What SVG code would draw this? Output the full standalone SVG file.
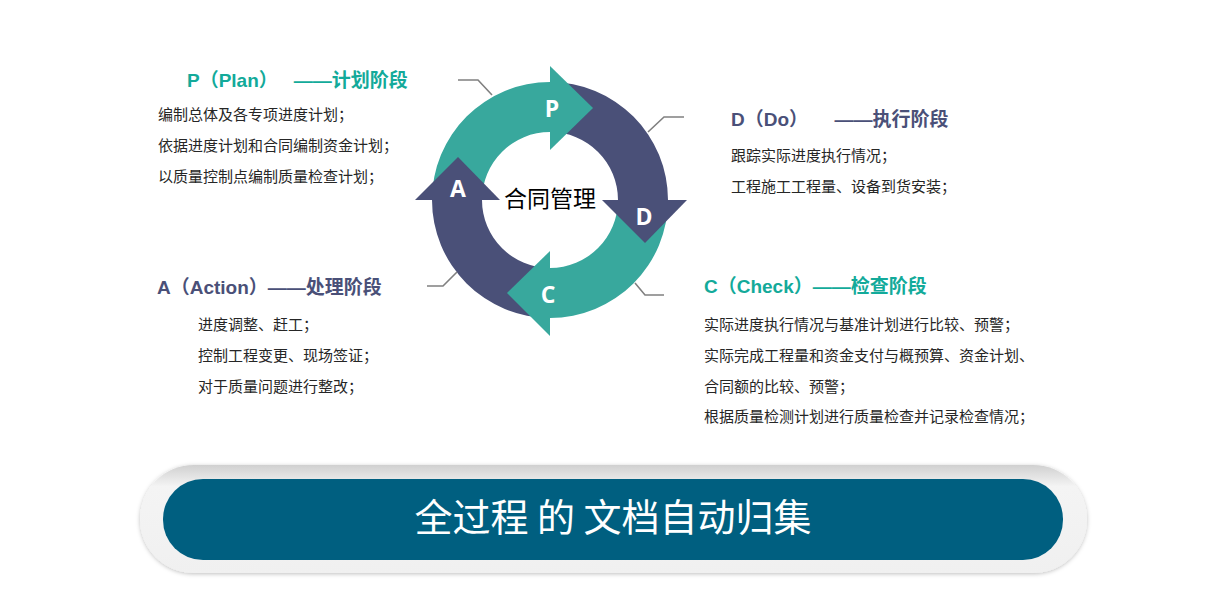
<svg xmlns="http://www.w3.org/2000/svg" width="1232" height="598" viewBox="0 0 1232 598">
<defs>
<style>
.teal{fill:#38a89d}.navy{fill:#4a5078}
.lbl{font-family:"Open Sans","Liberation Sans",sans-serif;font-weight:bold;font-size:23px;fill:#fff;text-anchor:middle}
.tt{font-family:"Liberation Sans","Noto Sans CJK SC",sans-serif;font-weight:bold;font-size:19px}
.tt.t{fill:#13aa9a}.tt.n{fill:#4a5078}
.body{font-family:"Liberation Sans","Noto Sans CJK SC",sans-serif;font-size:15px;fill:#262626}
.lead{fill:none;stroke:#808080;stroke-width:1.6}
</style>
<linearGradient id="g1" x1="0" y1="0" x2="0" y2="1"><stop offset="0" stop-color="#d0d0d0"/><stop offset="0.2" stop-color="#f4f4f4"/><stop offset="1" stop-color="#f0f0f0"/></linearGradient>
<filter id="sh" x="-5%" y="-20%" width="110%" height="140%"><feDropShadow dx="0" dy="1" stdDeviation="2" flood-color="#000" flood-opacity="0.25"/></filter>
</defs>
<g id="cycle">
<path class="teal" d="M432,200 A118,118 0 0 1 550,82 L550,132 A68,68 0 0 0 482,200 Z"/>
<path class="navy" d="M550,82 A118,118 0 0 1 668,200 L618,200 A68,68 0 0 0 550,132 Z"/>
<path class="teal" d="M668,200 A118,118 0 0 1 550,318 L550,268 A68,68 0 0 0 618,200 Z"/>
<path class="navy" d="M550,318 A118,118 0 0 1 432,200 L482,200 A68,68 0 0 0 550,268 Z"/>
<polygon class="teal" points="550,66 593,108 550,150"/>
<polygon class="navy" points="602,200 687,200 645,243"/>
<polygon class="teal" points="550,251 550,336 507,293"/>
<polygon class="navy" points="415,200 500,200 458,157"/>
<text class="lbl" x="552" y="117">P</text>
<text class="lbl" x="644" y="225">D</text>
<text class="lbl" x="548" y="303">C</text>
<text class="lbl" x="458" y="197">A</text>
<text x="550" y="207" text-anchor="middle" font-family="'Noto Sans CJK SC',sans-serif" font-size="23" fill="#000">合同管理</text>
</g>
<g id="connectors">
<polyline class="lead" points="458,80 478,80 492,95"/>
<polyline class="lead" points="684,117 664,117 648,132"/>
<polyline class="lead" points="427,286 443,286 457,272"/>
<polyline class="lead" points="664,295 645,295 635,283"/>
</g>
<g id="plan">
<text class="tt t" x="187" y="87" xml:space="preserve">P（Plan）   ——计划阶段</text>
<text class="body" x="158" y="120">编制总体及各专项进度计划；</text>
<text class="body" x="158" y="151">依据进度计划和合同编制资金计划；</text>
<text class="body" x="158" y="182">以质量控制点编制质量检查计划；</text>
</g>
<g id="do">
<text class="tt n" x="731" y="126" xml:space="preserve">D（Do）     ——执行阶段</text>
<text class="body" x="731" y="161">跟踪实际进度执行情况；</text>
<text class="body" x="731" y="192">工程施工工程量、设备到货安装；</text>
</g>
<g id="action">
<text class="tt n" x="157" y="294">A（Action）——处理阶段</text>
<text class="body" x="198" y="330">进度调整、赶工；</text>
<text class="body" x="198" y="361">控制工程变更、现场签证；</text>
<text class="body" x="198" y="392">对于质量问题进行整改；</text>
</g>
<g id="check">
<text class="tt t" x="704" y="293">C（Check）——检查阶段</text>
<text class="body" x="704" y="330">实际进度执行情况与基准计划进行比较、预警；</text>
<text class="body" x="704" y="361">实际完成工程量和资金支付与概预算、资金计划、</text>
<text class="body" x="704" y="392">合同额的比较、预警；</text>
<text class="body" x="704" y="422">根据质量检测计划进行质量检查并记录检查情况；</text>
</g>
<g id="banner">
<rect x="140" y="465" width="947" height="108" rx="54" fill="url(#g1)" filter="url(#sh)"/>
<rect x="163" y="479" width="900" height="81" rx="40" fill="#005f80"/>
<text x="613" y="531" text-anchor="middle" font-family="'Noto Sans CJK SC',sans-serif" font-size="38" fill="#fff" xml:space="preserve">全过程 的 文档自动归集</text>
</g>
</svg>
